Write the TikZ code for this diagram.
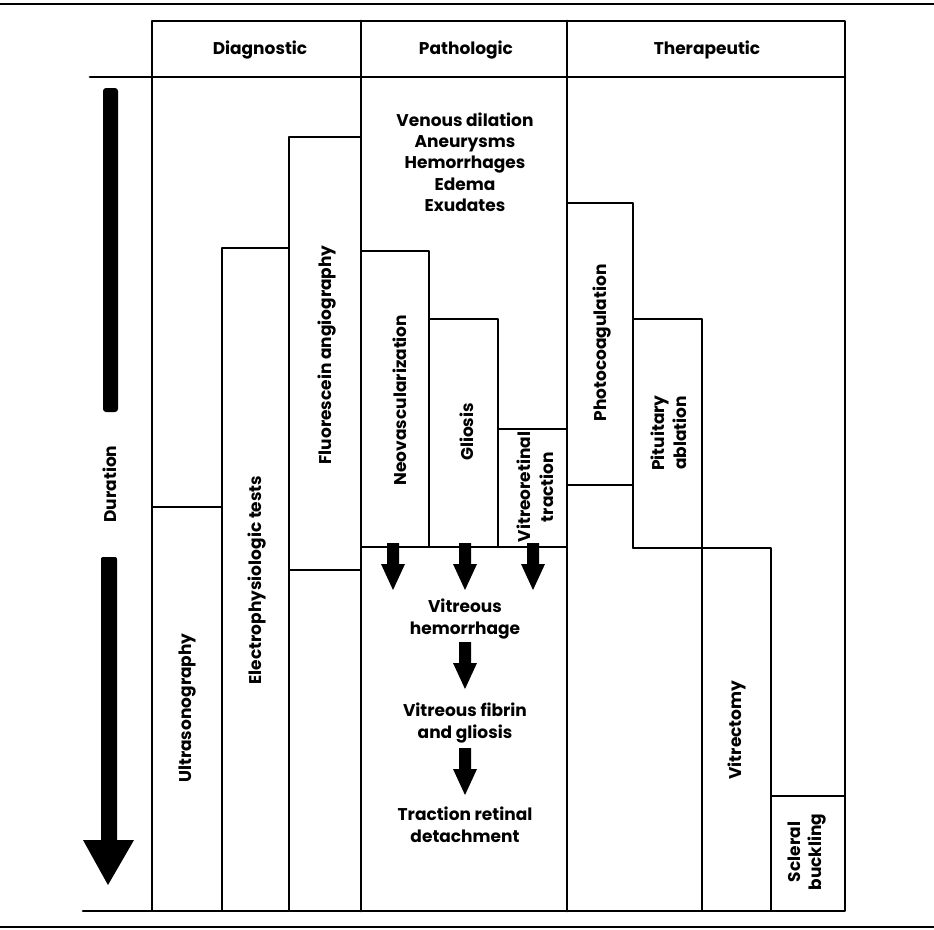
\documentclass[tikz,border=0pt]{standalone}
\usepackage{fontspec}
\setmainfont{Poppins}
\begin{document}
\begin{tikzpicture}[x=1pt,y=-1pt,
  outer/.style={line width=2.8pt, line cap=round, line join=round},
  inner/.style={line width=1.8pt, line cap=round, line join=round},
  rule/.style={line width=2.4pt},
  lbl/.style={font=\bfseries\fontsize{17}{22}\selectfont, inner sep=0pt, align=center},
  vlbl/.style={lbl, rotate=90},
  blockarrow/.pic={\fill[black] (-6,0) -- (-6,21) -- (-12,21) -- (0,47) -- (12,21) -- (6,21) -- (6,0) -- cycle;}]
\useasboundingbox (0,0) rectangle (934,929);

% rules
\draw[rule] (0,4) -- (934,4);
\draw[rule] (0,927) -- (934,927);

% outer frame and header
\draw[outer] (152,21) rectangle (845,911);
\draw[outer] (90,77) -- (845,77);
\draw[outer] (83,911) -- (152,911);
\draw[outer] (361,21) -- (361,911);
\draw[outer] (567,21) -- (567,911);

% diagnostic column
\draw[inner] (152,507) -- (222,507);
\draw[inner] (222,911) -- (222,248) -- (289,248);
\draw[inner] (289,911) -- (289,137) -- (361,137);
\draw[inner] (289,570) -- (361,570);

% pathologic column
\draw[inner] (361,251) -- (429,251) -- (429,547);
\draw[inner] (429,319) -- (498,319) -- (498,547);
\draw[inner] (498,429) -- (567,429);
\draw[inner] (361,547) -- (567,547);

% therapeutic column
\draw[inner] (567,203) -- (633,203) -- (633,548);
\draw[inner] (567,485) -- (633,485);
\draw[inner] (633,319) -- (702,319) -- (702,911);
\draw[inner] (633,548) -- (771,548) -- (771,911);
\draw[inner] (771,796) -- (845,796);

% duration arrow
\fill[black, rounded corners=3pt] (103,88) rectangle (118,412);
\fill[black] (101,560) -- (101,840) -- (83,840) -- (108,885) -- (134,840) -- (117,840) -- (117,560) [rounded corners=2pt] -- (117,557) -- (101,557) -- cycle;
\node[vlbl] (duration) at (110,484) {Duration};

% headers
\node[lbl] (diag) at (260,50) {Diagnostic};
\node[lbl] (path) at (466,50) {Pathologic};
\node[lbl] (ther) at (707,50) {Therapeutic};

% diagnostic labels
\node[vlbl] (ultra) at (188,708) {Ultrasonography};
\node[vlbl] (electro) at (257,580) {Electrophysiologic tests};
\node[vlbl] (fluor) at (327,355) {Fluorescein angiography};

% pathologic labels
\node[lbl, font=\bfseries\fontsize{17}{21.3}\selectfont] (signs) at (465,162) {Venous dilation\\Aneurysms\\Hemorrhages\\Edema\\Exudates};
\node[vlbl] (neo) at (400,400) {Neovascularization};
\node[vlbl] (glio) at (467,432) {Gliosis};
\node[vlbl, font=\bfseries\fontsize{17}{23}\selectfont] (vrt) at (535,487) {Vitreoretinal\\traction};

\pic at (393,543) {blockarrow};
\pic at (465,543) {blockarrow};
\pic at (533,543) {blockarrow};
\node[lbl] (vh) at (465,619) {Vitreous\\hemorrhage};
\pic at (465,642) {blockarrow};
\node[lbl] (vfg) at (465,723) {Vitreous fibrin\\and gliosis};
\pic at (465,748) {blockarrow};
\node[lbl] (trd) at (465,825) {Traction retinal\\detachment};

% therapeutic labels
\node[vlbl] (photo) at (602,343) {Photocoagulation};
\node[vlbl] (pit) at (669,433) {Pituitary\\ablation};
\node[vlbl] (vitr) at (737,730) {Vitrectomy};
\node[vlbl, font=\bfseries\fontsize{17}{21}\selectfont] (scl) at (807,852) {Scleral\\buckling};
\end{tikzpicture}
\end{document}
